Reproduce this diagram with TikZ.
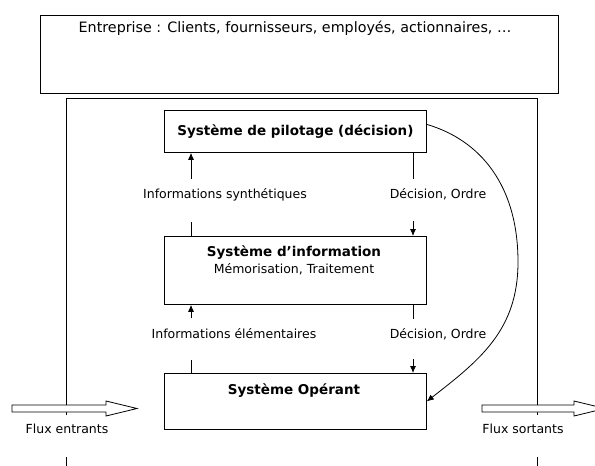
\documentclass[tikz,border=0pt]{standalone}
\usepackage{fontspec}
\setmainfont{DejaVu Sans}
\usetikzlibrary{arrows.meta}

\begin{document}
\begin{tikzpicture}[x=1pt,y=-1pt,line width=0.8pt,
    boite/.style={draw,anchor=north west,inner sep=0pt,minimum width=262pt},
    etiq/.style={anchor=base,inner sep=0pt,font=\fontsize{12.5}{15}\selectfont},
    titre/.style={anchor=base,inner sep=0pt,font=\fontsize{13.5}{16}\selectfont\bfseries},
    fleche/.style={-{Latex[length=7pt,width=6pt]}}]
  \useasboundingbox (0,0) rectangle (595,466);
  \clip (0,0) rectangle (595,466);
  % environnement
  \node[boite,minimum width=518pt,minimum height=78pt] (entreprise) at (40,15) {};
  \node[etiq,font=\fontsize{14.3}{17}\selectfont] (entreprisetxt) at (295,32)
    {Entreprise : Clients, fournisseurs, employés, actionnaires, …};
  \draw (66,415) -- (66,98) -- (537,98) -- (537,415);
  \draw (66,457) -- (66,466);
  \draw (537,457) -- (537,466);
  % les trois systemes
  \node[boite,minimum height=42pt,font=\fontsize{13.5}{16}\selectfont\bfseries] (pilotage) at (164,110)
    {Système de pilotage (décision)};
  \node[boite,minimum height=68pt] (info) at (164,236) {};
  \node[titre] (infotitre) at (294,256) {Système d’information};
  \node[etiq] (infosous) at (294,273) {Mémorisation, Traitement};
  \node[boite,minimum height=56pt] (operant) at (164,373) {};
  \node[titre] (operanttitre) at (294,394) {Système Opérant};
  % flux entre systemes
  \node[etiq] (synth) at (225,198) {Informations synthétiques};
  \node[etiq] (decision1) at (438,198) {Décision, Ordre};
  \node[etiq] (elem) at (234,338) {Informations élémentaires};
  \node[etiq] (decision2) at (438,338) {Décision, Ordre};
  \coordinate (g1) at (191,179);
  \coordinate (g2) at (191,222);
  \coordinate (g3) at (191,318);
  \coordinate (g4) at (191,360);
  \coordinate (d1) at (413,179);
  \coordinate (d2) at (413,221);
  \coordinate (d3) at (413,319);
  \coordinate (d4) at (413,359);
  \draw[fleche] (g1) -- (g1 |- pilotage.south);
  \draw (g2) -- (g2 |- info.north);
  \draw[fleche] (g3) -- (g3 |- info.south);
  \draw (g4) -- (g4 |- operant.north);
  \draw (d1 |- pilotage.south) -- (d1);
  \draw[fleche] (d2) -- (d2 |- info.north);
  \draw (d3 |- info.south) -- (d3);
  \draw[fleche] (d4) -- (d4 |- operant.north);
  \draw[fleche] ([yshift=7pt]pilotage.east) .. controls (480,140) and (518,185) .. (518,262)
    .. controls (518,330) and (480,360) .. (operant.east);
  % flux exterieurs
  \draw[fill=white] (12,405) -- (106,405) -- (106,401) -- (137,408.5) -- (106,416)
    -- (106,412) -- (12,412) -- cycle;
  \draw[fill=white] (482,405) -- (574,405) -- (574,401) -- (605,408.5) -- (574,416)
    -- (574,412) -- (482,412) -- cycle;
  \node[etiq] (entrants) at (67,433) {Flux entrants};
  \node[etiq] (sortants) at (523,433) {Flux sortants};
\end{tikzpicture}
\end{document}
